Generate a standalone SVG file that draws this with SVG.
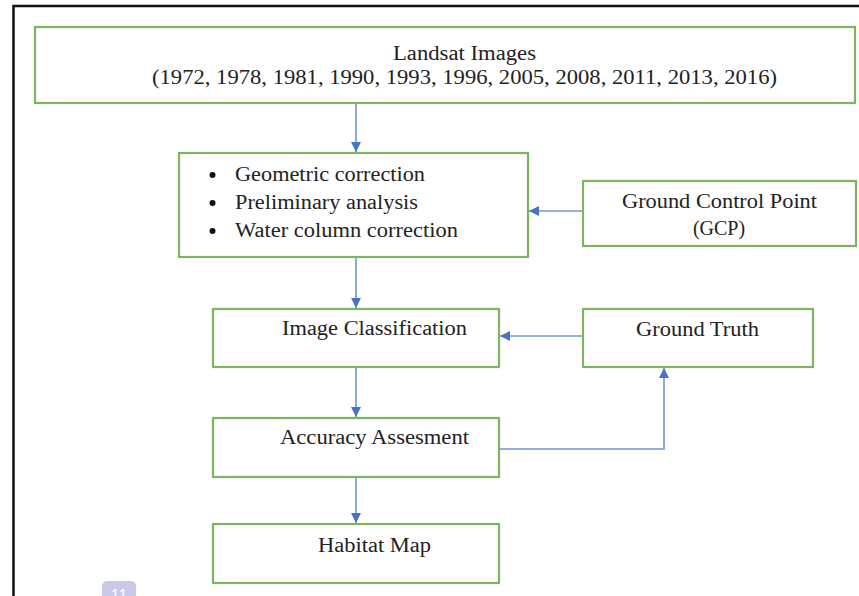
<svg xmlns="http://www.w3.org/2000/svg" width="859" height="596" viewBox="0 0 859 596">
<defs>
<style>
.box{fill:#fff;stroke:#7cb55e;stroke-width:2.2}
.t{font-family:"Liberation Serif","Times New Roman",serif;font-size:20px;fill:#222}
.c{fill:none;stroke:#6f96d8;stroke-width:1.6}
</style>
<marker id="ah" viewBox="0 0 10 10" refX="10" refY="5" markerWidth="10" markerHeight="10" orient="auto" markerUnits="userSpaceOnUse">
<path d="M0,0 L10,5 L0,10 z" fill="#4673c8"/>
</marker>
</defs>
<rect x="0" y="0" width="859" height="596" fill="#fff"/>
<path d="M13.5,596 V6 H859" fill="none" stroke="#111" stroke-width="2.5"/>
<g id="connectors">
<path class="c" d="M356,103 V152" marker-end="url(#ah)"/>
<path class="c" d="M356,257 V308" marker-end="url(#ah)"/>
<path class="c" d="M356,367 V417" marker-end="url(#ah)"/>
<path class="c" d="M356,477 V523" marker-end="url(#ah)"/>
<path class="c" d="M583,211 H529" marker-end="url(#ah)"/>
<path class="c" d="M583,336 H500" marker-end="url(#ah)"/>
<path class="c" d="M499,449 H664 V368" marker-end="url(#ah)"/>
</g>
<g id="landsat">
<rect class="box" x="35" y="27" width="820" height="76"/>
<text class="t" x="393" y="60" textLength="143" lengthAdjust="spacingAndGlyphs">Landsat Images</text>
<text class="t" x="152" y="84" textLength="625" lengthAdjust="spacingAndGlyphs">(1972, 1978, 1981, 1990, 1993, 1996, 2005, 2008, 2011, 2013, 2016)</text>
</g>
<g id="preprocessing">
<rect class="box" x="179" y="153" width="349" height="104"/>
<circle cx="212.5" cy="175" r="3" fill="#111"/>
<circle cx="212.5" cy="203" r="3" fill="#111"/>
<circle cx="212.5" cy="231" r="3" fill="#111"/>
<text class="t" x="235" y="181" textLength="190" lengthAdjust="spacingAndGlyphs">Geometric correction</text>
<text class="t" x="235" y="209" textLength="183" lengthAdjust="spacingAndGlyphs">Preliminary analysis</text>
<text class="t" x="235" y="237" textLength="223" lengthAdjust="spacingAndGlyphs">Water column correction</text>
</g>
<g id="gcp">
<rect class="box" x="583" y="181" width="273" height="65"/>
<text class="t" x="622" y="208" textLength="195" lengthAdjust="spacingAndGlyphs">Ground Control Point</text>
<text class="t" x="719" y="235" text-anchor="middle">(GCP)</text>
</g>
<g id="classification">
<rect class="box" x="213" y="309" width="286" height="58"/>
<text class="t" x="282" y="335" textLength="185" lengthAdjust="spacingAndGlyphs">Image Classification</text>
</g>
<g id="groundtruth">
<rect class="box" x="583" y="309" width="230" height="58"/>
<text class="t" x="636" y="336" textLength="123" lengthAdjust="spacingAndGlyphs">Ground Truth</text>
</g>
<g id="accuracy">
<rect class="box" x="213" y="418" width="286" height="59"/>
<text class="t" x="280" y="444" textLength="189" lengthAdjust="spacingAndGlyphs">Accuracy Assesment</text>
</g>
<g id="habitat">
<rect class="box" x="213" y="524" width="286" height="59"/>
<text class="t" x="318" y="552" textLength="113" lengthAdjust="spacingAndGlyphs">Habitat Map</text>
</g>
<g id="badge">
<rect x="102" y="581" width="34" height="22" rx="5" fill="#c8c9ea"/>
<text x="119" y="601" text-anchor="middle" font-family="Liberation Sans,Arial,sans-serif" font-size="16" fill="#fff">11</text>
</g>
</svg>
